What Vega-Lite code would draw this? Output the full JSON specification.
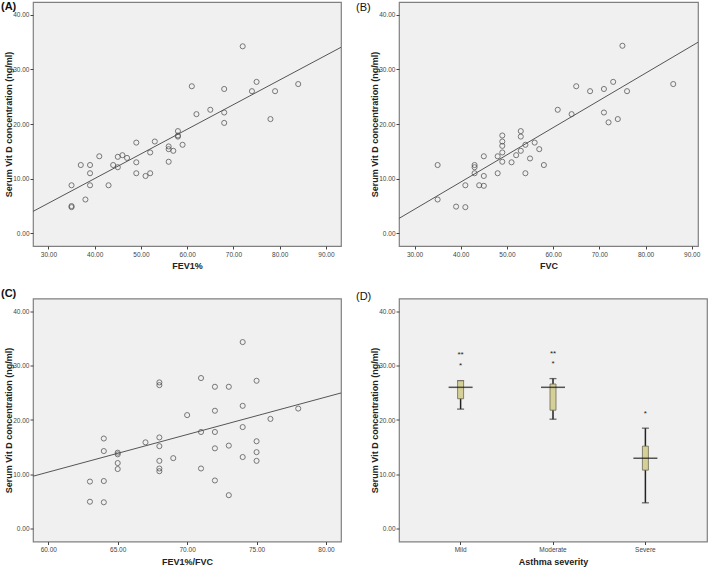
{
  "$schema": "https://vega.github.io/schema/vega-lite/v6.json",
  "background": "white",
  "padding": {"left": 0, "top": 0, "right": 2, "bottom": 0},
  "datasets": {
    "fev1": [
      {"fev1": 35, "vitd": 4.8}, {"fev1": 35, "vitd": 5.0}, {"fev1": 35, "vitd": 8.8}, {"fev1": 37, "vitd": 12.5},
      {"fev1": 38, "vitd": 6.2}, {"fev1": 39, "vitd": 12.5}, {"fev1": 39, "vitd": 11.0}, {"fev1": 39, "vitd": 8.8},
      {"fev1": 41, "vitd": 14.1}, {"fev1": 43, "vitd": 8.8}, {"fev1": 44, "vitd": 12.5}, {"fev1": 45, "vitd": 14.0},
      {"fev1": 45, "vitd": 12.1}, {"fev1": 46, "vitd": 14.3}, {"fev1": 47, "vitd": 13.8}, {"fev1": 49, "vitd": 16.6},
      {"fev1": 49, "vitd": 13.0}, {"fev1": 49, "vitd": 11.0}, {"fev1": 51, "vitd": 10.5}, {"fev1": 52, "vitd": 14.8},
      {"fev1": 52, "vitd": 11.0}, {"fev1": 53, "vitd": 16.8}, {"fev1": 56, "vitd": 15.9}, {"fev1": 56, "vitd": 15.4},
      {"fev1": 56, "vitd": 13.1}, {"fev1": 57, "vitd": 15.1}, {"fev1": 58, "vitd": 18.7}, {"fev1": 58, "vitd": 17.7},
      {"fev1": 58, "vitd": 17.9}, {"fev1": 59, "vitd": 16.2}, {"fev1": 61, "vitd": 26.9}, {"fev1": 62, "vitd": 21.8},
      {"fev1": 65, "vitd": 22.6}, {"fev1": 68, "vitd": 26.4}, {"fev1": 68, "vitd": 22.1}, {"fev1": 68, "vitd": 20.2},
      {"fev1": 72, "vitd": 34.2}, {"fev1": 74, "vitd": 26.0}, {"fev1": 75, "vitd": 27.7}, {"fev1": 78, "vitd": 20.9},
      {"fev1": 79, "vitd": 26.0}, {"fev1": 84, "vitd": 27.3}
    ],
    "fev1Fit": [{"fev1": 26.67, "vitd": 4.02}, {"fev1": 93.25, "vitd": 34.02}],
    "fvc": [
      {"fvc": 75, "vitd": 34.3}, {"fvc": 35, "vitd": 12.5}, {"fvc": 35, "vitd": 6.2}, {"fvc": 39, "vitd": 4.9},
      {"fvc": 41, "vitd": 8.8}, {"fvc": 41, "vitd": 4.8}, {"fvc": 43, "vitd": 12.5}, {"fvc": 43, "vitd": 12.1},
      {"fvc": 43, "vitd": 11.0}, {"fvc": 44, "vitd": 8.8}, {"fvc": 45, "vitd": 14.1}, {"fvc": 45, "vitd": 10.5},
      {"fvc": 45, "vitd": 8.7}, {"fvc": 48, "vitd": 14.1}, {"fvc": 48, "vitd": 11.0}, {"fvc": 49, "vitd": 17.9},
      {"fvc": 49, "vitd": 16.8}, {"fvc": 49, "vitd": 16.0}, {"fvc": 49, "vitd": 14.8}, {"fvc": 49, "vitd": 13.1},
      {"fvc": 51, "vitd": 13.0}, {"fvc": 52, "vitd": 14.3}, {"fvc": 53, "vitd": 18.7}, {"fvc": 53, "vitd": 17.7},
      {"fvc": 53, "vitd": 15.1}, {"fvc": 54, "vitd": 16.2}, {"fvc": 54, "vitd": 11.0}, {"fvc": 55, "vitd": 13.7},
      {"fvc": 56, "vitd": 16.6}, {"fvc": 57, "vitd": 15.4}, {"fvc": 58, "vitd": 12.5}, {"fvc": 61, "vitd": 22.6},
      {"fvc": 64, "vitd": 21.8}, {"fvc": 65, "vitd": 26.9}, {"fvc": 68, "vitd": 26.0}, {"fvc": 71, "vitd": 26.4},
      {"fvc": 71, "vitd": 22.1}, {"fvc": 72, "vitd": 20.3}, {"fvc": 73, "vitd": 27.7}, {"fvc": 74, "vitd": 20.9},
      {"fvc": 76, "vitd": 26.0}, {"fvc": 86, "vitd": 27.3}
    ],
    "fvcFit": [{"fvc": 26.64, "vitd": 2.74}, {"fvc": 91.36, "vitd": 34.94}],
    "ratio": [
      {"ratio": 74, "vitd": 34.3}, {"ratio": 63, "vitd": 5.0}, {"ratio": 63, "vitd": 8.7}, {"ratio": 64, "vitd": 16.6},
      {"ratio": 64, "vitd": 14.3}, {"ratio": 64, "vitd": 8.8}, {"ratio": 64, "vitd": 4.9}, {"ratio": 65, "vitd": 14.0},
      {"ratio": 65, "vitd": 13.7}, {"ratio": 65, "vitd": 12.1}, {"ratio": 65, "vitd": 11.0}, {"ratio": 67, "vitd": 15.9},
      {"ratio": 68, "vitd": 26.9}, {"ratio": 68, "vitd": 26.4}, {"ratio": 68, "vitd": 16.8}, {"ratio": 68, "vitd": 15.2},
      {"ratio": 68, "vitd": 12.5}, {"ratio": 68, "vitd": 11.1}, {"ratio": 68, "vitd": 10.6}, {"ratio": 69, "vitd": 13.0},
      {"ratio": 70, "vitd": 20.9}, {"ratio": 71, "vitd": 27.7}, {"ratio": 71, "vitd": 17.8}, {"ratio": 71, "vitd": 11.1},
      {"ratio": 72, "vitd": 26.1}, {"ratio": 72, "vitd": 21.7}, {"ratio": 72, "vitd": 17.8}, {"ratio": 72, "vitd": 14.8},
      {"ratio": 72, "vitd": 8.9}, {"ratio": 73, "vitd": 26.1}, {"ratio": 73, "vitd": 15.3}, {"ratio": 73, "vitd": 6.2},
      {"ratio": 74, "vitd": 22.6}, {"ratio": 74, "vitd": 18.7}, {"ratio": 74, "vitd": 13.2}, {"ratio": 75, "vitd": 27.2},
      {"ratio": 75, "vitd": 16.1}, {"ratio": 75, "vitd": 14.1}, {"ratio": 75, "vitd": 12.5}, {"ratio": 76, "vitd": 20.2},
      {"ratio": 78, "vitd": 22.1}
    ],
    "ratioFit": [{"ratio": 58.9, "vitd": 9.68}, {"ratio": 81.08, "vitd": 24.96}],
    "box": [
      {"severity": "Mild", "lower": 22.0, "q1": 23.9, "median": 26.0, "q3": 27.2, "upper": 27.2},
      {"severity": "Moderate", "lower": 20.15, "q1": 21.8, "median": 26.0, "q3": 26.6, "upper": 27.6},
      {"severity": "Severe", "lower": 4.8, "q1": 10.8, "median": 13.0, "q3": 15.2, "upper": 18.5}
    ],
    "outliers": [
      {"severity": "Mild", "value": 31.9, "label": "**"},
      {"severity": "Mild", "value": 29.9, "label": "*"},
      {"severity": "Moderate", "value": 32.1, "label": "**"},
      {"severity": "Moderate", "value": 30.2, "label": "*"},
      {"severity": "Severe", "value": 21.1, "label": "*"}
    ]
  },
  "vconcat": [
    {
      "spacing": 13,
      "hconcat": [
        {
          "width": 308, "height": 244,
          "title": {"text": "(A)", "anchor": "start", "frame": "bounds", "offset": -10, "fontSize": 11, "fontWeight": "bold", "dx": -3},
          "encoding": {
            "x": {"field": "fev1", "type": "quantitative", "scale": {"domain": [26.67, 93.25], "nice": false, "zero": false}, "axis": {"values": [30, 40, 50, 60, 70, 80, 90], "format": ".2f", "title": "FEV1%"}},
            "y": {"field": "vitd", "type": "quantitative", "scale": {"domain": [-2.3, 42.3], "nice": false, "zero": false}, "axis": {"values": [0, 10, 20, 30, 40], "format": ".2f", "title": "Serum Vit D concentration (ng/ml)"}}
          },
          "layer": [
            {"data": {"name": "fev1"}, "mark": {"type": "point", "shape": "circle", "filled": false, "size": 26, "stroke": "#444", "strokeWidth": 1}},
            {"data": {"name": "fev1Fit"}, "mark": {"type": "line", "color": "#555", "strokeWidth": 1, "clip": true}},
            {"data": {"values": [{"label": "R Sq Linear = 0.79"}]}, "mark": {"type": "text", "fontSize": 6.5, "color": "#333"},
             "encoding": {"x": {"datum": 84.26, "type": "quantitative"}, "y": {"datum": 3.84, "type": "quantitative"}, "text": {"field": "label"}}}
          ]
        },
        {
          "width": 299, "height": 244,
          "title": {"text": "(B)", "anchor": "start", "frame": "bounds", "offset": -11, "fontSize": 11, "fontWeight": "normal", "dx": -14},
          "encoding": {
            "x": {"field": "fvc", "type": "quantitative", "scale": {"domain": [26.64, 91.36], "nice": false, "zero": false}, "axis": {"values": [30, 40, 50, 60, 70, 80, 90], "format": ".2f", "title": "FVC"}},
            "y": {"field": "vitd", "type": "quantitative", "scale": {"domain": [-2.3, 42.3], "nice": false, "zero": false}, "axis": {"values": [0, 10, 20, 30, 40], "format": ".2f", "title": "Serum Vit D concentration (ng/ml)"}}
          },
          "layer": [
            {"data": {"name": "fvc"}, "mark": {"type": "point", "shape": "circle", "filled": false, "size": 26, "stroke": "#444", "strokeWidth": 1}},
            {"data": {"name": "fvcFit"}, "mark": {"type": "line", "color": "#555", "strokeWidth": 1, "clip": true}},
            {"data": {"values": [{"label": "R Sq Linear = 0.78"}]}, "mark": {"type": "text", "fontSize": 6.5, "color": "#333"},
             "encoding": {"x": {"datum": 84.38, "type": "quantitative"}, "y": {"datum": 4.08, "type": "quantitative"}, "text": {"field": "label"}}}
          ]
        }
      ]
    },
    {
      "spacing": 13,
      "hconcat": [
        {
          "width": 308, "height": 243,
          "title": {"text": "(C)", "anchor": "start", "frame": "bounds", "offset": 0, "fontSize": 11, "fontWeight": "bold", "dx": -3},
          "encoding": {
            "x": {"field": "ratio", "type": "quantitative", "scale": {"domain": [58.9, 81.08], "nice": false, "zero": false}, "axis": {"values": [60, 65, 70, 75, 80], "format": ".2f", "title": "FEV1%/FVC"}},
            "y": {"field": "vitd", "type": "quantitative", "scale": {"domain": [-2.3, 42.3], "nice": false, "zero": false}, "axis": {"values": [0, 10, 20, 30, 40], "format": ".2f", "title": "Serum Vit D concentration (ng/ml)"}}
          },
          "layer": [
            {"data": {"name": "ratio"}, "mark": {"type": "point", "shape": "circle", "filled": false, "size": 26, "stroke": "#444", "strokeWidth": 1}},
            {"data": {"name": "ratioFit"}, "mark": {"type": "line", "color": "#555", "strokeWidth": 1, "clip": true}},
            {"data": {"values": [{"label": "R Sq Linear = 0.22"}]}, "mark": {"type": "text", "fontSize": 6.5, "color": "#333"},
             "encoding": {"x": {"datum": 78.18, "type": "quantitative"}, "y": {"datum": 4.13, "type": "quantitative"}, "text": {"field": "label"}}}
          ]
        },
        {
          "width": 308, "height": 243,
          "title": {"text": "(D)", "anchor": "start", "frame": "bounds", "offset": -3, "fontSize": 11, "fontWeight": "normal", "dx": -14},
          "encoding": {
            "x": {"field": "severity", "type": "nominal", "sort": ["Mild", "Moderate", "Severe"], "scale": {"paddingInner": 0, "paddingOuter": 0.1667}, "axis": {"labelAngle": 0, "title": "Asthma severity"}}
          },
          "layer": [
            {"data": {"name": "box"}, "mark": {"type": "rule", "color": "#222", "strokeWidth": 1.5},
             "encoding": {"y": {"field": "lower", "type": "quantitative", "title": "Serum Vit D concentration (ng/ml)", "scale": {"domain": [-2.3, 42.3], "nice": false, "zero": false}, "axis": {"values": [0, 10, 20, 30, 40], "format": ".2f"}}, "y2": {"field": "upper"}}},
            {"data": {"name": "box"}, "mark": {"type": "tick", "color": "#333", "size": 7, "thickness": 1.3},
             "encoding": {"y": {"field": "lower", "type": "quantitative", "title": "Serum Vit D concentration (ng/ml)"}}},
            {"data": {"name": "box"}, "mark": {"type": "tick", "color": "#333", "size": 7, "thickness": 1.3},
             "encoding": {"y": {"field": "upper", "type": "quantitative", "title": "Serum Vit D concentration (ng/ml)"}}},
            {"data": {"name": "box"}, "mark": {"type": "bar", "size": 6, "fill": "#d5cf98", "stroke": "#6b6850", "strokeWidth": 0.8},
             "encoding": {"y": {"field": "q1", "type": "quantitative", "title": "Serum Vit D concentration (ng/ml)"}, "y2": {"field": "q3"}}},
            {"data": {"name": "box"}, "mark": {"type": "tick", "color": "#111", "size": 24, "thickness": 1.5},
             "encoding": {"y": {"field": "median", "type": "quantitative", "title": "Serum Vit D concentration (ng/ml)"}}},
            {"data": {"name": "outliers"}, "mark": {"type": "text", "fontSize": 8, "color": "#222", "baseline": "middle"},
             "encoding": {"y": {"field": "value", "type": "quantitative", "title": "Serum Vit D concentration (ng/ml)"}, "text": {"field": "label"}}}
          ]
        }
      ]
    }
  ],
  "spacing": 14.5,
  "config": {
    "font": "Liberation Sans",
    "view": {"fill": "#f0f0f0", "stroke": "#808080", "strokeWidth": 1.2},
    "title": {"font": "Liberation Sans", "color": "#111"},
    "text": {"font": "Liberation Sans"},
    "axis": {
      "labelFont": "Liberation Sans", "labelFontSize": 6.5, "labelColor": "#444",
      "tickColor": "#444", "tickSize": 3, "domain": false, "grid": false,
      "titleFont": "Liberation Sans", "titleFontSize": 9, "titleFontWeight": "bold", "titleColor": "#222"
    },
    "axisY": {"minExtent": 18, "maxExtent": 18, "titlePadding": 2, "labelPadding": 1},
    "axisX": {"labelPadding": 2, "titlePadding": 4}
  }
}
